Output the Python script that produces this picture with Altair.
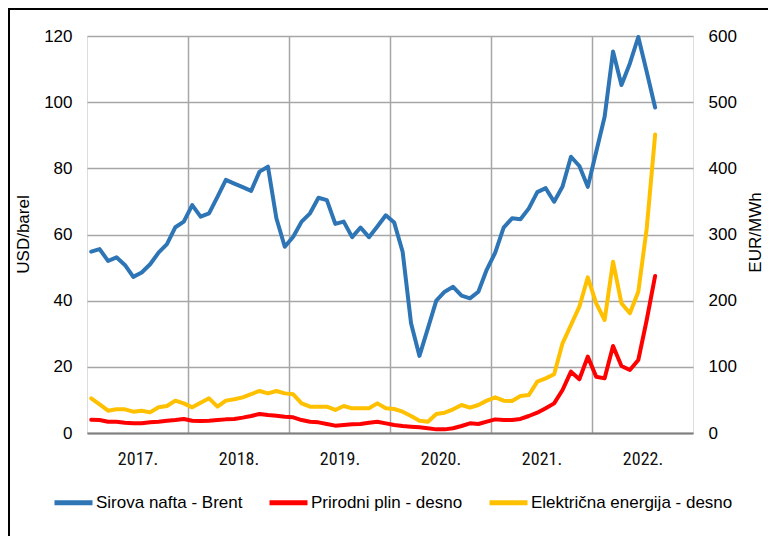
import altair as alt
import pandas as pd

# ---------------- data ----------------
year_labels = ["2017.", "2018.", "2019.", "2020.", "2021.", "2022."]
series_names = ["Sirova nafta - Brent", "Prirodni plin - desno", "Električna energija - desno"]
series_colors = ["#2E75B6", "#FF0000", "#FFC000"]

# monthly values, Jan 2017 - Aug 2022
brent = [54.8, 55.6, 52.0, 53.1, 50.8, 47.2, 48.5, 51.0, 54.5, 57.1, 62.2, 63.9,
         68.9, 65.4, 66.4, 71.4, 76.5, 75.4, 74.3, 73.2, 79.0, 80.5, 64.9, 56.3,
         59.3, 63.9, 66.4, 71.1, 70.4, 63.2, 63.9, 59.2, 62.1, 59.2, 62.4, 65.8,
         63.6, 54.8, 33.2, 23.3, 31.6, 40.0, 42.7, 44.2, 41.5, 40.7, 42.7, 49.4,
         54.5, 62.1, 64.9, 64.6, 67.9, 72.8, 74.0, 69.9, 74.5, 83.5, 80.7, 74.4,
         85.0, 95.6, 115.3, 105.2, 111.7, 119.7, 109.2, 98.4]
plin = [20.0, 19.6, 17.1, 17.0, 15.6, 14.6, 14.6, 16.1, 17.1, 18.6, 19.6, 21.2,
        18.6, 18.1, 18.6, 19.6, 20.6, 21.2, 23.2, 25.7, 28.7, 27.2, 26.2, 24.7,
        23.7, 19.6, 17.1, 16.1, 13.6, 11.1, 12.1, 13.1, 13.6, 15.6, 17.1, 14.6,
        12.1, 10.6, 9.6, 8.6, 7.1, 5.5, 5.5, 7.1, 10.6, 14.6, 13.6, 17.1,
        20.6, 19.6, 19.6, 21.2, 25.7, 30.7, 37.3, 44.8, 65.0, 92.7, 81.2, 115.4,
        85.1, 82.6, 131.5, 101.3, 95.2, 110.3, 170.8, 237.3]
struja = [52.4, 43.3, 33.7, 35.8, 35.8, 32.2, 33.7, 31.2, 38.8, 40.8, 48.9, 44.8,
          38.8, 45.8, 52.4, 39.8, 48.9, 50.9, 53.9, 58.9, 63.5, 59.9, 63.5, 59.9,
          58.4, 44.8, 39.8, 39.8, 39.8, 34.8, 40.8, 37.3, 37.3, 37.3, 44.8, 37.3,
          36.3, 32.2, 25.7, 18.6, 17.1, 28.7, 30.7, 35.8, 42.3, 38.3, 42.3, 48.9,
          53.9, 48.9, 48.4, 55.9, 57.4, 77.6, 82.6, 88.7, 135.5, 163.2, 190.9, 235.3,
          196.0, 170.8, 258.9, 196.0, 180.9, 213.5, 309.0, 451.0]
left_ticks = [0, 20, 40, 60, 80, 100, 120]
right_ticks = [0, 100, 200, 300, 400, 500, 600]

n = len(brent)
months_per_year = 12
n_slots = months_per_year * len(year_labels)

df = pd.DataFrame({
    "pos": [i + 0.5 for i in range(n)] * 3,
    "value": brent + plin + struja,
    "series": [series_names[0]] * n + [series_names[1]] * n + [series_names[2]] * n,
})

# x axis: labels at the centre of each year band, grid lines at year boundaries
label_vals = [months_per_year * k + 6 for k in range(len(year_labels))]
grid_vals = [months_per_year * k for k in range(1, len(year_labels))]
x_vals = sorted(label_vals + grid_vals)
label_expr = "''"
for v, lab in reversed(list(zip(label_vals, year_labels))):
    label_expr = f"datum.value == {v} ? '{lab}' : ({label_expr})"

FONT = "Liberation Sans"
GRID = "#a6a6a6"

x_enc = alt.X(
    "pos:Q",
    scale=alt.Scale(domain=[0, n_slots], nice=False, zero=False),
    axis=alt.Axis(
        values=x_vals, labelExpr=label_expr, title=None,
        grid=True, gridColor=GRID, gridWidth=1.5,
        gridOpacity={"condition": {"test": "datum.value % 12 === 0", "value": 1}, "value": 0},
        ticks=False, domainColor="#7f7f7f", domainWidth=2,
        labelFont="Liberation Sans Narrow, Roboto Condensed, Lato", labelFontSize=18,
        labelColor="#111", labelPadding=17, labelOverlap=False,
    ),
)

color_enc = alt.Color(
    "series:N",
    scale=alt.Scale(domain=series_names, range=series_colors),
    sort=series_names,
    legend=alt.Legend(
        orient="none", legendX=-35, legendY=445, direction="horizontal",
        title=None, symbolType="stroke", symbolSize=1444, symbolStrokeWidth=5,
        labelFont=FONT, labelFontSize=17, labelColor="black",
        columnPadding=16, labelOffset=1, padding=0, labelLimit=400,
    ),
)

base = alt.Chart(df)

left = base.transform_filter(alt.datum.series == series_names[0]).mark_line(
    strokeWidth=4, strokeJoin="round", strokeCap="round"
).encode(
    x=x_enc,
    y=alt.Y(
        "value:Q",
        scale=alt.Scale(domain=[left_ticks[0], left_ticks[-1]], nice=False),
        axis=alt.Axis(
            values=left_ticks, title="USD/barel", grid=True, gridColor=GRID, gridWidth=1.5,
            ticks=False, domain=False, labelFont=FONT, labelFontSize=17, labelColor="black",
            labelPadding=15, titleFont=FONT, titleFontSize=17, titleFontWeight="normal",
            titleColor="black", titleAngle=270, titleX=-64, titleY=198,
            titleAlign="center", titleBaseline="middle",
        ),
    ),
    color=color_enc,
)

right = base.transform_filter(alt.datum.series != series_names[0]).mark_line(
    strokeWidth=4, strokeJoin="round", strokeCap="round"
).encode(
    x=x_enc,
    y=alt.Y(
        "value:Q",
        scale=alt.Scale(domain=[right_ticks[0], right_ticks[-1]], nice=False),
        axis=alt.Axis(
            orient="right", values=right_ticks, title="EUR/MWh", grid=False,
            ticks=False, domain=False, labelFont=FONT, labelFontSize=17, labelColor="black",
            labelPadding=15, titleFont=FONT, titleFontSize=17, titleFontWeight="normal",
            titleColor="black", titleAngle=270, titleX=62, titleY=196,
            titleAlign="center", titleBaseline="middle",
        ),
    ),
    color=color_enc,
)

frame = alt.Chart(pd.DataFrame({"k": [0]})).mark_rect(
    fillOpacity=0, stroke="black", strokeWidth=2
).encode(
    x=alt.value(-78), x2=alt.value(720), y=alt.value(-27), y2=alt.value(560)
)

chart = alt.layer(left, right, frame).resolve_scale(y="independent").properties(
    width=606, height=397,
    autosize=alt.AutoSizeParams(type="none"),
    padding={"left": 79, "top": 28, "right": 75, "bottom": 103},
).configure_view(
    stroke=GRID, strokeWidth=1.5
).configure(background="white")

chart.save("out.html", embed_options={"renderer": "svg", "actions": False})
